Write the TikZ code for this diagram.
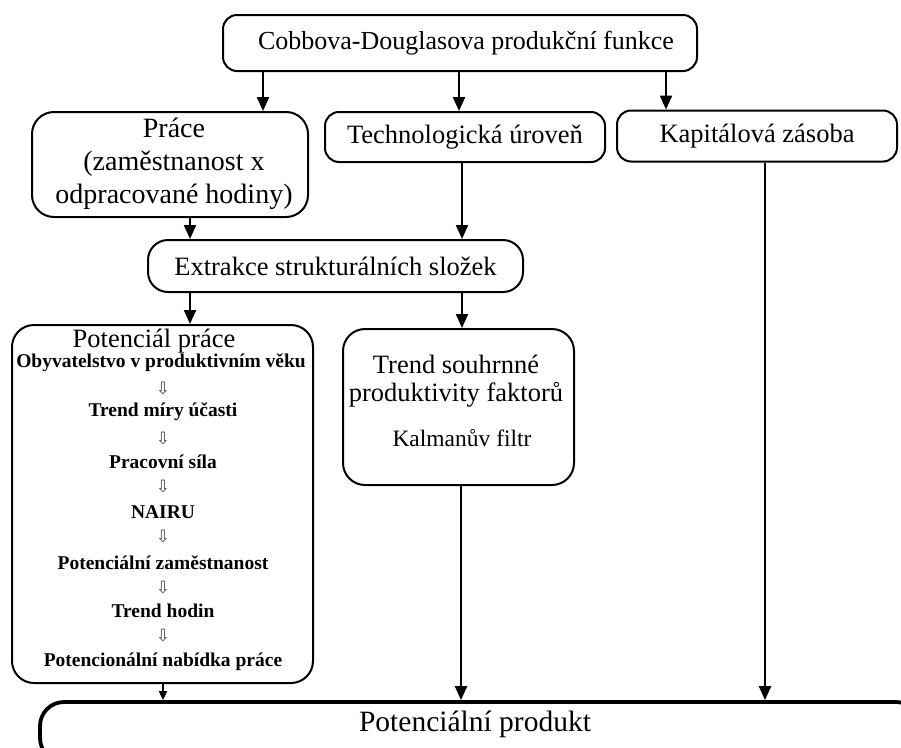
\documentclass[tikz,border=0pt]{standalone}
\usepackage{fontspec}
\setmainfont{Liberation Serif}
\newfontfamily\symfont{DejaVu Sans}
\usetikzlibrary{arrows.meta}
\tikzset{
  box/.style={draw, line width=2pt, rounded corners=14pt, inner sep=0pt, align=center},
  bigbox/.style={draw, line width=2pt, rounded corners=22pt, inner sep=0pt},
  arr/.style={line width=2.2pt, -{Triangle[length=14pt,width=12pt]}},
  sarr/.style={line width=1.8pt, -{Triangle[length=9pt,width=8pt]}},
  mfont/.style={font=\fontsize{26.5}{30}\selectfont},
  ltxt/.style={font=\fontsize{19.5}{22}\selectfont\bfseries, inner sep=0pt},
  htxt/.style={font=\symfont\fontsize{17}{18}\selectfont, text=black!70, inner sep=0pt}
}
\begin{document}
\begin{tikzpicture}[x=1pt,y=-1pt]
\useasboundingbox (0,0) rectangle (901,747);
% top box
\node[box, font=\fontsize{26}{30}\selectfont, minimum width=474pt, minimum height=56pt] (cd) at (460,43) {\hspace*{12pt}Cobbova-Douglasova produkční funkce};
% second row
\node[box, rounded corners=22pt, minimum width=276pt, minimum height=105pt] (prace) at (170,164.5) {};
\node[font=\fontsize{28}{33}\selectfont, align=center, inner sep=0pt] (pracet) at (174,164) {Práce\\(zaměstnanost x\\odpracované hodiny)};
\node[box, mfont, minimum width=280pt, minimum height=50pt] (tech) at (465,137) {Technologická úroveň};
\node[box, mfont, minimum width=280pt, minimum height=51pt] (kap) at (757,136) {Kapitálová zásoba};
% extrakce
\node[box, mfont, rounded corners=20pt, minimum width=375pt, minimum height=52pt] (ext) at (335.5,266) {Extrakce strukturálních složek};
% potencial prace box
\node[bigbox, minimum width=301pt, minimum height=358pt] (pot) at (162.5,504) {};
\node[mfont, inner sep=0pt] (pt0) at (154,341) {Potenciál práce};
\node[ltxt] (pt1) at (161,363) {Obyvatelstvo v produktivním věku};
\node[htxt] (h1) at (163,389) {⇩};
\node[ltxt] (pt2) at (163,412) {Trend míry účasti};
\node[htxt] (h2) at (163,439) {⇩};
\node[ltxt] (pt3) at (163,462) {Pracovní síla};
\node[htxt] (h3) at (163,487) {⇩};
\node[ltxt] (pt4) at (163,512) {NAIRU};
\node[htxt] (h4) at (163,537) {⇩};
\node[ltxt] (pt5) at (163,563) {Potenciální zaměstnanost};
\node[htxt] (h5) at (163,588) {⇩};
\node[ltxt] (pt6) at (163,611) {Trend hodin};
\node[htxt] (h6) at (163,636) {⇩};
\node[ltxt] (pt7) at (163,662) {Potencionální nabídka práce};
% trend box
\node[bigbox, minimum width=231pt, minimum height=156pt] (trend) at (458.5,407) {};
\node[font=\fontsize{26.5}{28}\selectfont, align=center, inner sep=0pt] (trendt) at (456,381) {Trend souhrnné\\produktivity faktorů};
\node[font=\fontsize{23.5}{26}\selectfont, inner sep=0pt] (kalman) at (462,438) {Kalmanův filtr};
% bottom box (clipped)
\begin{scope}
\clip (0,0) rectangle (901,747);
\node[draw, line width=3.8pt, rounded corners=24pt, minimum width=880pt, minimum height=60pt, inner sep=0pt] (pp) at (480,732) {};
\end{scope}
\node[font=\fontsize{29.5}{32}\selectfont, inner sep=0pt] (ppt) at (475,724) {Potenciální produkt};
% connectors
\draw[arr] (cd.south -| 263,0) -- (prace.north -| 263,0);
\draw[arr] (cd.south -| 459,0) -- (tech.north -| 459,0);
\draw[arr] (cd.south -| 666,0) -- (kap.north -| 666,0);
\draw[arr] (prace.south -| 190,0) -- (ext.north -| 190,0);
\draw[arr] (tech.south -| 462,0) -- (ext.north -| 462,0);
\draw[arr] (ext.south -| 190,0) -- (pot.north -| 190,0);
\draw[arr] (ext.south -| 462,0) -- (trend.north -| 462,0);
\draw[arr] (trend.south -| 461,0) -- (pp.north -| 461,0);
\draw[arr] (kap.south -| 765,0) -- (pp.north -| 765,0);
\draw[sarr] (pot.south -| 163,0) -- (pp.north -| 163,0);
\end{tikzpicture}
\end{document}
